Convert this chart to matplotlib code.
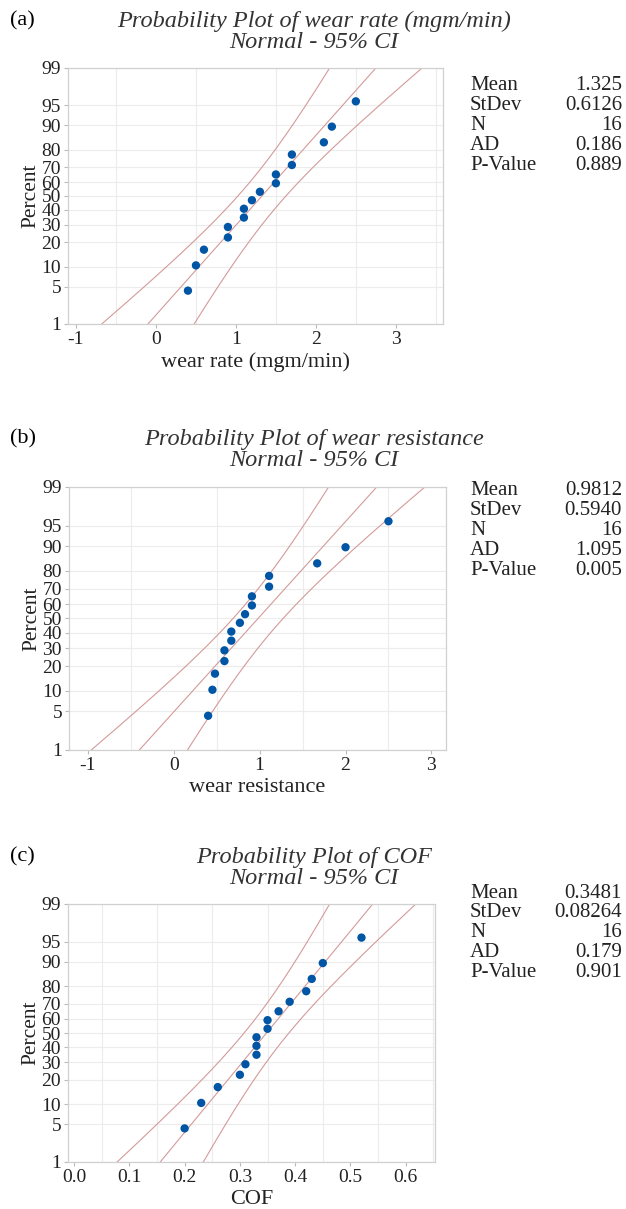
import numpy as np
import matplotlib.pyplot as plt
from statistics import NormalDist

# data
wear_rate = [0.4, 0.5, 0.6, 0.9, 0.9, 1.1, 1.1, 1.2, 1.3, 1.5, 1.5, 1.7, 1.7, 2.1, 2.2, 2.5]
wear_resistance = [0.40, 0.45, 0.48, 0.59, 0.59, 0.67, 0.67, 0.77, 0.83, 0.91, 0.91,
                   1.11, 1.11, 1.67, 2.0, 2.5]
cof = [0.20, 0.23, 0.26, 0.30, 0.31, 0.33, 0.33, 0.33, 0.35, 0.35, 0.37, 0.39, 0.42,
       0.43, 0.45, 0.52]

stat_names = ['Mean', 'StDev', 'N', 'AD', 'P-Value']
stats_a = ['1.325', '0.6126', '16', '0.186', '0.889']
stats_b = ['0.9812', '0.5940', '16', '1.095', '0.005']
stats_c = ['0.3481', '0.08264', '16', '0.179', '0.901']

pct_ticks = [1, 5, 10, 20, 30, 40, 50, 60, 70, 80, 90, 95, 99]

W, H = 626, 1209
SERIF = ['Liberation Serif', 'DejaVu Serif']
plt.rcParams['font.family'] = SERIF

nd = NormalDist()


def ppf(p):
    return nd.inv_cdf(p)


def panel(fig, box, data, mean, sd, n, xlim, xmajor, xgrid, xlabel, xfmt,
          letter, title, title_y, stats, stats_y):
    l, r, t, b = box
    ax = fig.add_axes([l / W, 1 - b / H, (r - l) / W, (b - t) / H])
    zlo, zhi = ppf(0.01), ppf(0.99)
    data = np.sort(np.array(data))
    k = len(data)
    pos = (np.arange(1, k + 1) - 0.3) / (k + 0.4)
    z = np.array([ppf(p) for p in pos])

    # fitted line and 95% band from the listed mean / stdev
    zz = np.linspace(zlo, zhi, 200)
    fit = mean + sd * zz
    half = 1.96 * sd * np.sqrt((1 + zz ** 2 / 2) / n)
    line_c = '#d49a9a'
    ax.plot(fit, zz, color=line_c, lw=0.8)
    ax.plot(fit - half, zz, color=line_c, lw=0.8)
    ax.plot(fit + half, zz, color=line_c, lw=0.8)
    ax.scatter(data, z, s=36, color='#0055a5', zorder=3, edgecolors='none')

    ax.set_xlim(*xlim)
    ax.set_ylim(zlo, zhi)
    ax.set_yticks([ppf(p / 100) for p in pct_ticks])
    ax.set_yticklabels([str(p) for p in pct_ticks])
    ax.set_xticks(xmajor)
    ax.set_xticklabels([xfmt.format(v) for v in xmajor])
    ax.set_xticks(xgrid, minor=True)
    ax.grid(True, which='minor', axis='x', color='#ececec', lw=0.8)
    ax.grid(True, which='major', axis='y', color='#ececec', lw=0.8)
    ax.set_axisbelow(True)
    ax.tick_params(axis='both', which='major', labelsize=14, length=3,
                   color='#bbbbbb', pad=2, labelcolor='#222222')
    ax.tick_params(axis='x', which='minor', length=0)
    for s in ax.spines.values():
        s.set_color('#d0d0d0')
        s.set_linewidth(0.9)
    ax.set_xlabel(xlabel, fontsize=16, labelpad=3, color='#222222')
    ax.set_ylabel('Percent', fontsize=15.5, labelpad=1, color='#222222')

    fig.text(10 / W, 1 - title_y[0] / H, letter, fontsize=16, va='center', ha='left')
    fig.text(314 / W, 1 - title_y[0] / H, title, fontsize=17.5, style='italic',
             color='#333333', va='center', ha='center')
    fig.text(314 / W, 1 - title_y[1] / H, 'Normal - 95% CI', fontsize=17.5,
             style='italic', color='#333333', va='center', ha='center')
    for i, (name, val) in enumerate(zip(stat_names, stats)):
        y = 1 - (stats_y + i * 19.8) / H
        fig.text(470 / W, y, name, fontsize=15, va='center', ha='left', color='#222222')
        fig.text(622 / W, y, val, fontsize=15, va='center', ha='right', color='#222222')
    return ax


fig = plt.figure(figsize=(W / 100, H / 100), dpi=100)

panel(fig, (68, 443, 68, 324), wear_rate, 1.325, 0.6126, 16, (-1.1, 3.59),
      [-1, 0, 1, 2, 3], np.arange(-1, 3.6, 0.5), 'wear rate (mgm/min)', '{:g}',
      '(a)', 'Probability Plot of wear rate (mgm/min)', (21, 43),
      stats_a, 86)

panel(fig, (69, 446, 487, 750), wear_resistance, 0.9812, 0.5940, 16, (-1.22, 3.17),
      [-1, 0, 1, 2, 3], np.arange(-1, 3.1, 0.5), 'wear resistance', '{:g}',
      '(b)', 'Probability Plot of wear resistance', (439, 461),
      stats_b, 491)

panel(fig, (68, 435, 904, 1162), cof, 0.3481, 0.08264, 16, (-0.011, 0.653),
      [0.0, 0.1, 0.2, 0.3, 0.4, 0.5, 0.6], np.arange(0, 0.651, 0.05), 'COF', '{:.1f}',
      '(c)', 'Probability Plot of COF', (857, 879),
      stats_c, 893)

fig.savefig('out.png', dpi=100)
